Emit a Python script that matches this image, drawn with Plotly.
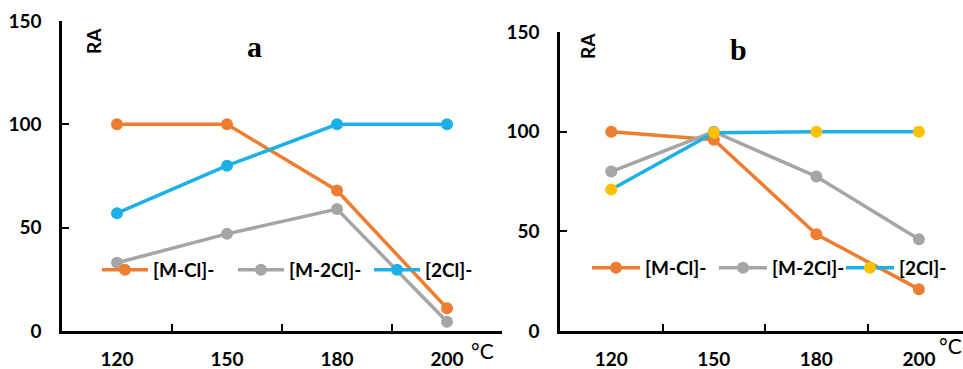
import plotly.graph_objects as go

categories = ["120", "150", "180", "200"]
series_names = ["[M-Cl]-", "[M-2Cl]-", "[2Cl]-"]

# Panel a
a_mcl = [100, 100, 68, 11]
a_m2cl = [33, 47, 59, 4.5]
a_2cl = [57, 80, 100, 100]

# Panel b
b_mcl = [100, 96, 48.5, 21]
b_m2cl = [80, 100, 77.5, 46]
b_2cl = [71, 99.5, 100, 100]

y_ticks = [0, 50, 100, 150]

ORANGE = "#ED7D31"
GRAY = "#A5A5A5"
BLUE = "#1CB0E6"
YELLOW = "#FFC000"

W, H = 963, 369
FONT = "Lato"

fig = go.Figure()

def add(x, y, name, color, mcolor, xa, ya, legend):
    fig.add_trace(go.Scatter(
        x=x, y=y, name=name, mode="lines+markers",
        line=dict(color=color, width=3.5),
        marker=dict(color=mcolor, size=12),
        xaxis=xa, yaxis=ya, legend=legend, cliponaxis=False,
    ))

add(categories, a_mcl, series_names[0], ORANGE, ORANGE, "x", "y", "legend")
add(categories, a_m2cl, series_names[1], GRAY, GRAY, "x", "y", "legend")
add(categories, a_2cl, series_names[2], BLUE, BLUE, "x", "y", "legend")
add(categories, b_mcl, series_names[0], ORANGE, ORANGE, "x2", "y2", "legend2")
add(categories, b_m2cl, series_names[1], GRAY, GRAY, "x2", "y2", "legend2")
add(categories, b_2cl, series_names[2], BLUE, YELLOW, "x2", "y2", "legend2")

tickfont = dict(family=FONT, size=19, color="black", weight="bold")

xcommon = dict(type="category", categoryorder="array", categoryarray=categories,
               showline=True, linecolor="black", linewidth=2.5, ticks="inside",
               ticklen=7, tickwidth=2, tickcolor="black", tickson="boundaries",
               showgrid=False, zeroline=False, tickfont=tickfont,
               ticklabelstandoff=9, automargin=False)
ycommon = dict(range=[0, 150], tickvals=y_ticks, showline=True, linecolor="black",
               linewidth=2.5, ticks="inside", ticklen=7, tickwidth=2, tickcolor="black",
               showgrid=False, zeroline=False, tickfont=tickfont,
               ticklabelstandoff=14, automargin=False)

legfont = dict(family=FONT, size=19, color="black", weight="bold")

fig.update_layout(
    template="none",
    width=W, height=H,
    margin=dict(l=0, r=0, t=0, b=0, autoexpand=False),
    paper_bgcolor="white", plot_bgcolor="white",
    xaxis=dict(domain=[62 / W, 502 / W], range=[-0.5, 3.5], anchor="y", **xcommon),
    yaxis=dict(domain=[38 / H, 348 / H], anchor="x", **ycommon),
    xaxis2=dict(domain=[560 / W, 1.0], range=[-0.5, 3.43], anchor="y2", **xcommon),
    yaxis2=dict(domain=[38 / H, 337 / H], anchor="x2", **ycommon),
    legend=dict(orientation="h", x=97 / W, y=(H - 270) / H, xanchor="left", yanchor="middle",
                font=legfont, bgcolor="rgba(0,0,0,0)", itemwidth=46, tracegroupgap=0,
                entrywidthmode="pixels", entrywidth=75),
    legend2=dict(orientation="h", x=587 / W, y=(H - 268) / H, xanchor="left", yanchor="middle",
                 font=legfont, bgcolor="rgba(0,0,0,0)", itemwidth=48, tracegroupgap=0,
                 entrywidthmode="pixels", entrywidth=64),
    showlegend=True,
)

def note(text, px, py, font, angle=0):
    return dict(text=text, x=px / W, y=(H - py) / H, xref="paper", yref="paper",
                xanchor="center", yanchor="middle", textangle=angle,
                showarrow=False, font=font)

serif = dict(family="Liberation Serif", size=30, color="black", weight="bold")
ra_font = dict(family=FONT, size=19, color="black", weight="bold")
deg_font = dict(family=FONT, size=21, color="black")

ann = [
    note("a", 254, 46, serif),
    note("b", 738, 50, serif),
    note("RA", 93, 41, ra_font, -90),
    note("RA", 587, 46, ra_font, -90),
    note("°C", 482, 350, deg_font),
    note("°C", 950, 345, deg_font),
]
fig.update_layout(annotations=ann)

fig.write_html("out.html",
               config={"displayModeBar": False},
               post_script="document.body.style.margin='0';document.body.style.padding='0';"
                           "document.body.style.overflow='hidden';")
